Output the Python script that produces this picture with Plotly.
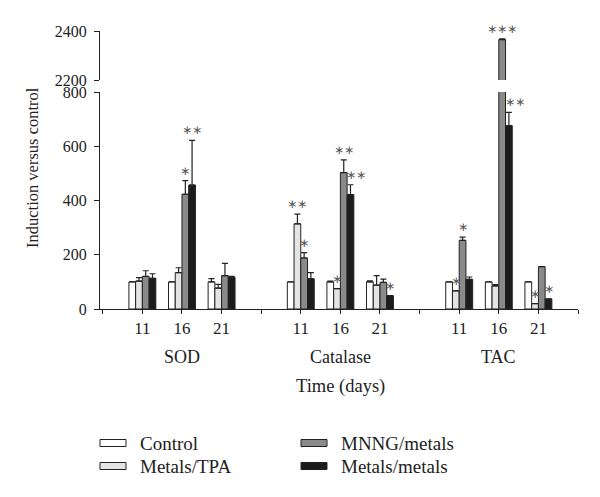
import plotly.graph_objects as go

# ---------------- data ----------------
groups = ["SOD", "Catalase", "TAC"]
days = ["11", "16", "21"]
series_names = ["Control", "Metals/TPA", "MNNG/metals", "Metals/metals"]

# values ordered SOD(11,16,21), Catalase(11,16,21), TAC(11,16,21)
control = [100, 100, 100, 100, 100, 100, 100, 100, 100]
control_err = [0, 0, 12, 0, 3, 4, 0, 0, 0]
metals_tpa = [103, 134, 77, 314, 75, 88, 67, 85, 20]
metals_tpa_err = [13, 18, 14, 36, 0, 35, 0, 5, 0]
mnng_metals = [120, 423, 123, 188, 503, 98, 253, 2365, 156]
mnng_metals_err = [21, 50, 45, 20, 47, 12, 12, 3, 0]
metals_metals = [113, 457, 117, 111, 422, 49, 109, 676, 37]
metals_metals_err = [17, 165, 3, 23, 36, 0, 9, 49, 0]

# significance marks: (series index, point index, label)
stars = [
    (2, 1, "∗"), (3, 1, "∗∗"),
    (1, 3, "∗∗"), (2, 3, "∗"),
    (1, 4, "∗"), (2, 4, "∗∗"), (3, 4, "∗∗"),
    (3, 5, "∗"),
    (1, 6, "∗"), (2, 6, "∗"),
    (2, 7, "∗∗∗"), (3, 7, "∗∗"),
    (1, 8, "∗"), (3, 8, "∗"),
]
star_xshift = {(3, 4): 6, (3, 7): 6}

values = [control, metals_tpa, mnng_metals, metals_metals]
errors = [control_err, metals_tpa_err, mnng_metals_err, metals_metals_err]
colors = ["#ffffff", "#e4e4e4", "#8a8a8a", "#1c1c1c"]

# ---------------- layout geometry ----------------
W, H = 600, 497
L, R, T, B = 100, 22, 31, 188
PW, PH = W - L - R, H - T - B
LOW_BREAK = 800
UP_RANGE = [2200, 2400]


def px_x(px):
    return (px - L) / PW


def px_y(py):
    return (H - B - py) / PH


bar_w = 0.17
offsets = [-1.5 * bar_w, -0.5 * bar_w, 0.5 * bar_w, 1.5 * bar_w]
xcats = [4 * g + d + 1 for g in range(len(groups)) for d in range(len(days))]

FONT = "Liberation Serif"
TXT = "#222222"
fig = go.Figure()

for axis in ["y", "y2"]:
    for i, name in enumerate(series_names):
        fig.add_trace(go.Bar(
            x=[xc + offsets[i] for xc in xcats],
            y=values[i],
            width=bar_w,
            name=name,
            marker=dict(color=colors[i], line=dict(color="#222222", width=1)),
            error_y=dict(type="data", symmetric=False, array=errors[i],
                         arrayminus=[0] * len(errors[i]),
                         color="#222222", thickness=1.2, width=3,
                         visible=True),
            yaxis=axis,
            xaxis="x",
            showlegend=False,
            cliponaxis=True,
        ))

annotations = []
for si, pi, lab in stars:
    top = values[si][pi] + errors[si][pi]
    yref = "y2" if top > LOW_BREAK else "y"
    annotations.append(dict(
        x=xcats[pi] + offsets[si], y=top, xref="x", yref=yref,
        text=lab, showarrow=False, yanchor="bottom", xanchor="center",
        yshift=1, xshift=star_xshift.get((si, pi), 0),
        font=dict(family="DejaVu Sans", size=12, color="#555555"),
    ))

# group labels and axis titles
for g, name in enumerate(groups):
    annotations.append(dict(
        x=4 * g + 2, y=px_y(357), xref="x", yref="paper", text=name,
        showarrow=False, xanchor="center", yanchor="middle",
        font=dict(family=FONT, size=18, color=TXT),
    ))
annotations.append(dict(
    x=6, y=px_y(386), xref="x", yref="paper", text="Time (days)",
    showarrow=False, xanchor="center", yanchor="middle",
    font=dict(family=FONT, size=18.5, color=TXT),
))
annotations.append(dict(
    x=px_x(32), y=px_y(168), xref="paper", yref="paper",
    text="Induction versus control", textangle=-90, showarrow=False,
    xanchor="center", yanchor="middle",
    font=dict(family=FONT, size=16.5, color=TXT),
))

# legend (drawn manually to match the wide swatches)
shapes = []
legend_pos = [(100, 443), (100, 466), (301, 443), (301, 466)]
for i, name in enumerate(series_names):
    lx, ly = legend_pos[i]
    shapes.append(dict(
        type="rect", xref="paper", yref="paper",
        x0=px_x(lx), x1=px_x(lx + 26), y0=px_y(ly + 3.5), y1=px_y(ly - 3.5),
        fillcolor=colors[i], line=dict(color="#222222", width=1),
    ))
    annotations.append(dict(
        x=px_x(lx + 38), y=px_y(ly), xref="paper", yref="paper",
        text=name, showarrow=False, xanchor="left", yanchor="middle",
        font=dict(family=FONT, size=19, color=TXT),
    ))

tick_vals = list(range(0, 13))
tick_text = []
for t in tick_vals:
    if t % 4 == 0:
        tick_text.append("")
    else:
        tick_text.append(days[(t % 4) - 1])

yaxis_common = dict(
    showline=True, linecolor="#222222", linewidth=1,
    ticks="outside", ticklen=5, tickcolor="#222222",
    tickfont=dict(family=FONT, size=16, color=TXT),
    ticklabelstandoff=4,
    showgrid=False, zeroline=False, anchor="x",
)

fig.update_layout(
    width=W, height=H,
    margin=dict(l=L, r=R, t=T, b=B, pad=0),
    paper_bgcolor="white", plot_bgcolor="white",
    barmode="overlay",
    showlegend=False,
    xaxis=dict(
        range=[-0.07, 12.0], domain=[0, 1], anchor="y",
        showline=True, linecolor="#222222", linewidth=1,
        ticks="outside", ticklen=4, tickcolor="#222222",
        tickvals=tick_vals, ticktext=tick_text,
        tickfont=dict(family=FONT, size=17, color=TXT),
        showgrid=False, zeroline=False,
    ),
    yaxis=dict(
        domain=[0, (H - B - 92) / PH], range=[0, LOW_BREAK],
        tickvals=[0, 200, 400, 600, 800], **yaxis_common,
    ),
    yaxis2=dict(
        domain=[(H - B - 80) / PH, 1], range=UP_RANGE,
        tickvals=UP_RANGE, **yaxis_common,
    ),
    annotations=annotations,
    shapes=shapes,
)

fig.write_html(
    "out.html",
    config={"displayModeBar": False},
    post_script="document.body.style.margin='0px';document.body.style.overflow='hidden';",
)
